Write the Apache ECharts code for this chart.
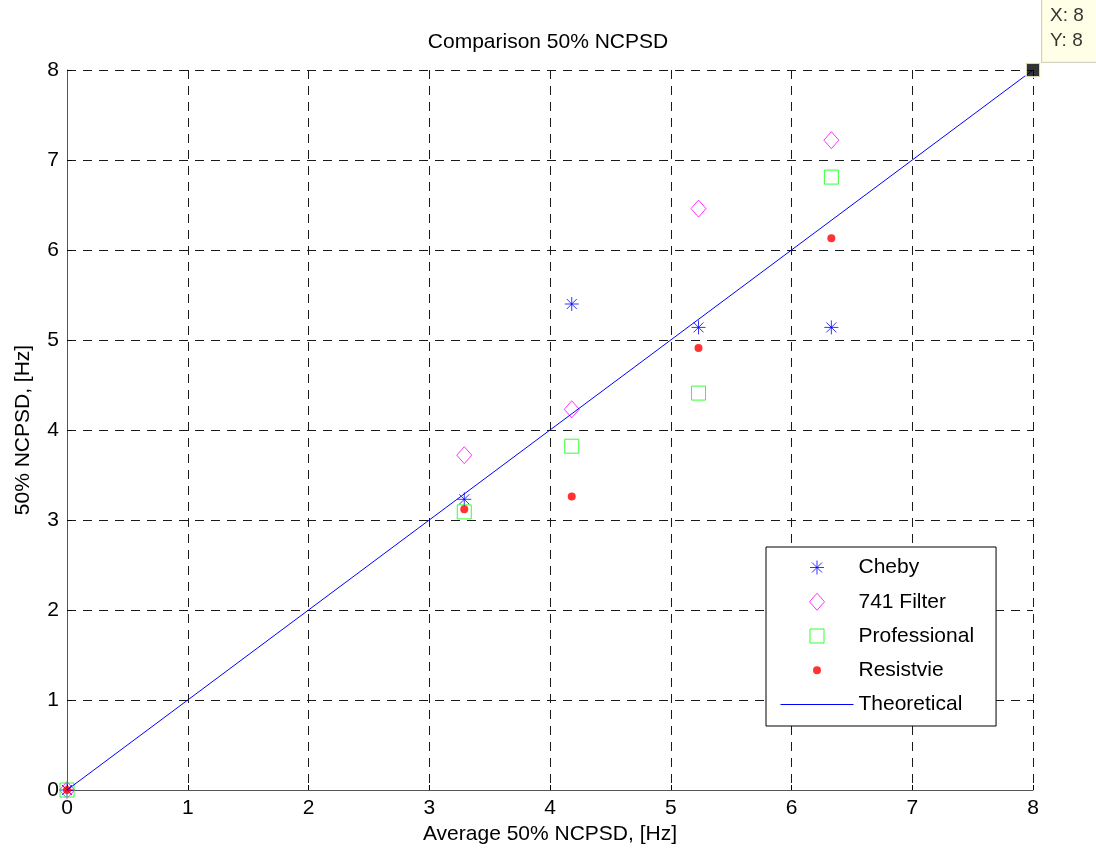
<!DOCTYPE html>
<html>
<head>
<meta charset="utf-8">
<title>Comparison 50% NCPSD</title>
<script src="https://cdn.jsdelivr.net/npm/echarts@6/dist/echarts.min.js"></script>
<style>
  html, body { margin: 0; padding: 0; background: #ffffff; }
  #chart { width: 1096px; height: 858px; }
</style>
</head>
<body>
<div id="chart"></div>
<script>
// Measured 50% NCPSD values [Hz] against the average of the four filters
const averageX     = [0, 3.29, 4.18, 5.23, 6.33];
const cheby        = [0, 3.23, 5.40, 5.14, 5.14];
const filter741    = [0, 3.72, 4.23, 6.46, 7.22];
const professional = [0, 3.09, 3.82, 4.41, 6.81];
const resistive    = [0, 3.12, 3.26, 4.91, 6.13];

// Ideal 1:1 relationship
const theoreticalX = [0, 8];
const theoreticalY = [0, 8];

// Highlighted data tip point
const tipPoint = [8, 8];

// Axis ticks
const tickLabels = ['0', '1', '2', '3', '4', '5', '6', '7', '8'];

const seriesNames = ['Cheby', '741 Filter', 'Professional', 'Resistvie', 'Theoretical'];

const FONT = '"Liberation Sans", Arial, Helvetica, sans-serif';
const FS = 21;

// Marker outlines drawn inside a fixed 20x20 frame (the two lone moveTo
// points set the frame so every glyph keeps its own size).
const FRAME = 'M-10,-10M10,10';
const SYM_STAR = 'path://' + FRAME + 'M0,-7L0,7M-7,0L7,0M-5,-5L5,5M-5,5L5,-5';
const SYM_DIAMOND = 'path://' + FRAME + 'M0,-8.5L7.5,0L0,8.5L-7.5,0Z';
const SYM_SQUARE = 'path://' + FRAME + 'M-7,-7L7,-7L7,7L-7,7Z';
const SYM_DOT = 'path://' + FRAME + 'M-4,0A4,4,0,1,1,4,0A4,4,0,1,1,-4,0Z';

function pairs(xs, ys) {
  return xs.map((x, i) => [x, ys[i]]);
}

const chart = echarts.init(document.getElementById('chart'), null, { renderer: 'canvas' });

const axisCommon = {
  type: 'value',
  min: 0,
  max: tickLabels.length - 1,
  interval: 1,
  nameLocation: 'middle',
  nameTextStyle: { fontFamily: FONT, fontSize: FS, color: '#000' },
  axisLine: { show: true, lineStyle: { color: '#555', width: 1 } },
  axisTick: { show: true, inside: true, length: 5, lineStyle: { color: '#000', width: 1 } },
  axisLabel: {
    fontFamily: FONT, fontSize: FS, color: '#000', margin: 8,
    formatter: v => tickLabels[v]
  },
  splitLine: { show: true, lineStyle: { color: '#1a1a1a', width: 1, type: [9, 7] } }
};

const option = {
  animation: false,
  backgroundColor: '#ffffff',
  title: {
    text: 'Comparison 50% NCPSD',
    left: 'center',
    top: 27,
    textStyle: { fontFamily: FONT, fontSize: FS, fontWeight: 'normal', color: '#000' }
  },
  grid: { left: 67, right: 63, top: 70, bottom: 68, containLabel: false },
  xAxis: Object.assign({}, axisCommon, {
    name: 'Average 50% NCPSD, [Hz]',
    nameGap: 28
  }),
  yAxis: Object.assign({}, axisCommon, {
    name: '50% NCPSD, [Hz]',
    nameGap: 33
  }),
  legend: {
    orient: 'vertical',
    left: 766,
    top: 547,
    padding: [10, 22, 11, 14],
    itemWidth: 73,
    itemHeight: 20,
    itemGap: 13.25,
    backgroundColor: '#ffffff',
    borderColor: '#000000',
    borderWidth: 1,
    borderRadius: 0,
    itemStyle: { borderWidth: 1 },
    lineStyle: { width: 1 },
    textStyle: { fontFamily: FONT, fontSize: FS, color: '#000', lineHeight: 20 },
    selectedMode: false,
    data: [
      { name: seriesNames[0], icon: SYM_STAR },
      { name: seriesNames[1], icon: SYM_DIAMOND },
      { name: seriesNames[2], icon: SYM_SQUARE },
      { name: seriesNames[3], icon: SYM_DOT, itemStyle: { borderWidth: 0 } },
      {
        name: seriesNames[4],
        itemStyle: { color: 'rgba(0,0,0,0)', borderColor: 'rgba(0,0,0,0)', borderWidth: 0 }
      }
    ]
  },
  series: [
    {
      name: seriesNames[0],
      type: 'scatter',
      clip: false,
      symbol: SYM_STAR,
      symbolSize: 20,
      itemStyle: { color: '#0000ff', borderColor: '#0000ff', borderWidth: 1 },
      data: pairs(averageX, cheby)
    },
    {
      name: seriesNames[1],
      type: 'scatter',
      clip: false,
      symbol: SYM_DIAMOND,
      symbolSize: 20,
      itemStyle: { color: 'rgba(0,0,0,0)', borderColor: '#ff00ff', borderWidth: 1 },
      data: pairs(averageX, filter741)
    },
    {
      name: seriesNames[2],
      type: 'scatter',
      clip: false,
      symbol: SYM_SQUARE,
      symbolSize: 20,
      itemStyle: { color: 'rgba(0,0,0,0)', borderColor: '#00ff00', borderWidth: 1 },
      data: pairs(averageX, professional)
    },
    {
      name: seriesNames[3],
      type: 'scatter',
      clip: false,
      symbol: SYM_DOT,
      symbolSize: 20,
      itemStyle: { color: '#ff0000', borderWidth: 0 },
      data: pairs(averageX, resistive)
    },
    {
      name: seriesNames[4],
      type: 'line',
      clip: false,
      symbol: 'none',
      lineStyle: { color: '#0000ff', width: 1 },
      itemStyle: { color: '#0000ff' },
      data: pairs(theoreticalX, theoreticalY)
    },
    {
      name: 'dataTip',
      type: 'scatter',
      clip: false,
      z: 10,
      symbol: 'rect',
      symbolSize: 14,
      itemStyle: { color: '#000000', borderColor: '#ffffe1', borderWidth: 2 },
      label: {
        show: true,
        position: [17, -67],
        formatter: p => 'X: ' + p.value[0] + '\nY: ' + p.value[1],
        fontFamily: FONT,
        fontSize: 19,
        lineHeight: 25,
        color: '#000',
        backgroundColor: '#ffffe1',
        borderColor: '#c8c8b4',
        borderWidth: 1,
        padding: [8, 30, 9, 8]
      },
      data: [tipPoint]
    }
  ]
};

chart.setOption(option);
</script>
</body>
</html>
